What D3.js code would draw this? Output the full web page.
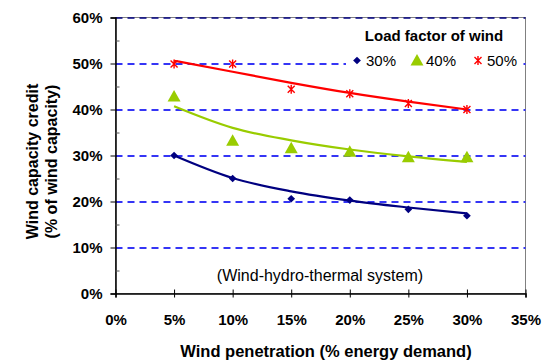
<!DOCTYPE html>
<html>
<head>
<meta charset="utf-8">
<script src="https://cdn.jsdelivr.net/npm/d3@7"></script>
<style>
  body { margin: 0; background: #fff; }
  svg { font-family: Arial, "Liberation Sans", sans-serif; }
</style>
</head>
<body>
<svg width="542" height="363"></svg>
<script>
// wind penetration (% of energy demand)
var penetration = [5, 10, 15, 20, 25, 30];

// capacity credit, by load factor of wind
var lf30 = [30.0, 25.0, 20.6, 20.3, 18.3, 16.9];
var lf40 = [42.8, 33.2, 31.6, 30.8, 29.6, 29.6];
var lf50 = [49.9, 49.9, 44.4, 43.4, 41.3, 40.0];

// trend lines as they are drawn in the chart
var trend30 = [30.0, 25.1, 22.2, 20.2, 18.7, 17.4];
var trend40 = [40.7, 36.0, 33.3, 31.3, 29.8, 28.6];
var trend50 = [50.6, 48.2, 45.8, 43.6, 41.7, 40.0];

var seriesNames = ["30%", "40%", "50%"];
var xTicks = [0, 5, 10, 15, 20, 25, 30, 35];
var yTicks = [0, 10, 20, 30, 40, 50, 60];

var svg = d3.select("svg"),
    margin = {top: 17.5, left: 115.5},
    width = 410,
    height = 276,
    g = svg.append("g").attr("transform", "translate(" + margin.left + "," + margin.top + ")");

var x = d3.scaleLinear().domain([0, 35]).range([0, width]),
    y = d3.scaleLinear().domain([0, 60]).range([height, 0]);

var series = [
  {name: seriesNames[0], values: lf30, trend: trend30, color: "#000080", shape: "diamond"},
  {name: seriesNames[1], values: lf40, trend: trend40, color: "#99CC00", shape: "triangle"},
  {name: seriesNames[2], values: lf50, trend: trend50, color: "#FF0000", shape: "star"}
];

// plot frame
g.append("rect")
    .attr("width", width)
    .attr("height", height)
    .attr("fill", "none")
    .attr("stroke", "#808080")
    .attr("stroke-width", 1);

// dashed gridlines
g.append("g")
    .attr("transform", "translate(0,0.5)")
  .selectAll(".grid")
    .data(yTicks.filter(function(d) { return d > 0; }))
    .enter().append("line")
      .attr("class", "grid")
      .attr("x1", 0)
      .attr("x2", width)
      .attr("y1", function(d) { return y(d); })
      .attr("y2", function(d) { return y(d); })
      .attr("stroke", function(d) { return d == 60 ? "#000080" : "#3535F5"; })
      .attr("stroke-width", function(d) { return d == 60 ? 1.5 : 2; })
      .attr("stroke-dasharray", "7,5");

// legend box sits over the gridlines
svg.append("rect")
    .attr("x", 346)
    .attr("y", 24)
    .attr("width", 177)
    .attr("height", 48)
    .attr("fill", "#fff");

// y axis, major ticks outside
var yAxis = g.append("g")
    .call(d3.axisLeft(y).tickValues(yTicks).tickSize(5).tickPadding(8)
      .tickFormat(function(d) { return d + "%"; }));
yAxis.select(".domain").attr("stroke", "#000").attr("stroke-width", 1.5);
yAxis.selectAll("text")
    .attr("fill", "#000")
    .style("font-size", "15px")
    .style("font-weight", "bold");

// minor ticks inside
g.append("g")
    .call(d3.axisLeft(y).tickValues([5, 15, 25, 35, 45, 55]).tickSize(-4).tickFormat(""))
    .call(function(a) { a.select(".domain").remove(); })
    .selectAll("line").attr("stroke", "#555");

// x axis, ticks crossing the line
var xAxis = g.append("g")
    .attr("transform", "translate(0," + height + ")")
    .call(d3.axisBottom(x).tickValues(xTicks).tickSize(4).tickPadding(17)
      .tickFormat(function(d) { return d + "%"; }));
xAxis.select(".domain").attr("stroke", "#000").attr("stroke-width", 1.5);
xAxis.selectAll(".tick line").attr("y1", -4).attr("y2", 4).attr("stroke", "#000");
xAxis.selectAll("text")
    .attr("fill", "#000")
    .style("font-size", "15px")
    .style("font-weight", "bold");

// trend lines
var line = d3.line()
    .curve(d3.curveMonotoneX)
    .x(function(d, i) { return x(penetration[i]); })
    .y(function(d) { return y(d); });

g.selectAll(".trend")
    .data(series)
    .enter().append("path")
      .attr("class", "trend")
      .attr("d", function(d) { return line(d.trend); })
      .attr("fill", "none")
      .attr("stroke", function(d) { return d.color; })
      .attr("stroke-width", 2.2);

// markers
function drawMarker(sel, shape, color) {
  if (shape == "diamond") {
    sel.append("path")
        .attr("d", d3.symbol(d3.symbolDiamond2, 38)())
        .attr("fill", color);
  } else if (shape == "triangle") {
    sel.append("path")
        .attr("d", "M0,-6.5L6.5,5L-6.5,5Z")
        .attr("fill", color);
  } else {
    sel.append("path")
        .attr("d", "M-3.5,-3.5L3.5,3.5M-3.5,3.5L3.5,-3.5M0,-4.5L0,4.5")
        .attr("fill", "none")
        .attr("stroke", color)
        .attr("stroke-width", 1.4);
  }
}

series.forEach(function(s) {
  s.values.forEach(function(v, i) {
    var m = g.append("g")
        .attr("transform", "translate(" + x(penetration[i]) + "," + y(v) + ")");
    drawMarker(m, s.shape, s.color);
  });
});

// legend
svg.append("text")
    .attr("x", 434)
    .attr("y", 40.5)
    .attr("text-anchor", "middle")
    .style("font-size", "15px")
    .style("font-weight", "bold")
    .text("Load factor of wind");

var legendX = [357, 417, 478];
series.forEach(function(s, i) {
  var item = svg.append("g").attr("transform", "translate(" + legendX[i] + ",60.5)");
  drawMarker(item, s.shape, s.color);
  item.append("text")
      .attr("x", 9)
      .attr("y", 5.5)
      .style("font-size", "15px")
      .text(s.name);
});

// annotation
svg.append("text")
    .attr("x", 320)
    .attr("y", 281)
    .attr("text-anchor", "middle")
    .style("font-size", "16px")
    .text("(Wind-hydro-thermal system)");

// axis titles
svg.append("text")
    .attr("x", 326)
    .attr("y", 357)
    .attr("text-anchor", "middle")
    .style("font-size", "16.5px")
    .style("font-weight", "bold")
    .text("Wind penetration (% energy demand)");

var yTitle = svg.append("text")
    .attr("transform", "translate(38,161.5) rotate(-90)")
    .attr("text-anchor", "middle")
    .style("font-size", "16px")
    .style("font-weight", "bold");
yTitle.append("tspan").attr("x", 0).attr("y", 0).text("Wind capacity credit");
yTitle.append("tspan").attr("x", 0).attr("y", 19).text("(% of wind capacity)");
</script>
</body>
</html>
